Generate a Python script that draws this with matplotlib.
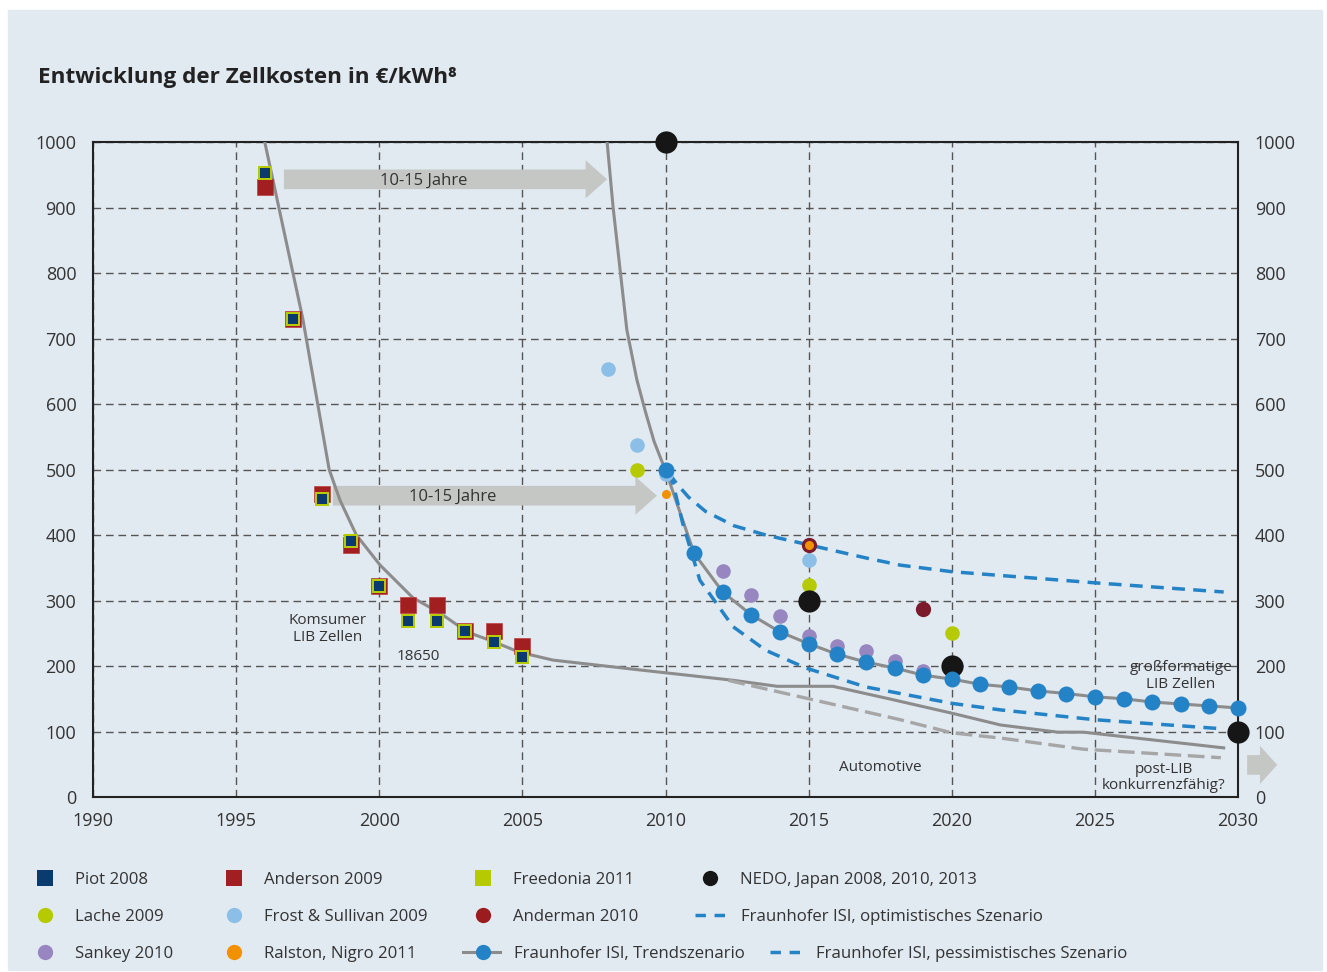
import numpy as np
import matplotlib.pyplot as plt
from matplotlib.patches import Rectangle, FancyArrow

plt.rcParams['font.family'] = ['Open Sans', 'DejaVu Sans']

W, H = 1327, 972
PANEL = '#e1e9f1'

# squares (Konsumer-Zellen)
sq_years = [1996, 1997, 1998, 1999, 2000, 2001, 2002, 2003, 2004, 2005]
piot = [952, 730, 455, 391, 322, 269, 269, 253, 237, 214]
freedonia = [952, 730, 455, 391, 322, 269, 269, 253, 237, 214]
anderson = [931, 730, 462, 385, 322, 293, 293, 253, 254, 230]

# circles
lache_years, lache = [2009, 2015, 2020], [500, 324, 250]
frost_years, frost = [2008, 2009, 2010, 2015], [653, 537, 493, 362]
anderman_years, anderman = [2015, 2019], [385, 287]
ralston_years, ralston = [2010, 2015], [463, 385]
sankey_years = [2012, 2013, 2014, 2015, 2016, 2017, 2018, 2019]
sankey = [345, 308, 276, 246, 230, 223, 208, 193]
nedo_years, nedo = [2010, 2015, 2020, 2030], [1000, 300, 200, 100]

trend_years = list(range(2010, 2031))
trend = [499, 372, 313, 278, 252, 234, 218, 206, 197, 186, 180, 172,
         168, 162, 158, 153, 150, 145, 142, 139, 136]
trend_top_years = [2007.96, 2008.17, 2008.65, 2009.0, 2009.3, 2009.6, 2009.85]
trend_top = [1000, 900, 713, 637, 588, 543, 515]

opt_years = [2010.1, 2010.26, 2010.6, 2011.2, 2012.36, 2013.5, 2014.9,
             2017.0, 2018.2, 2020, 2021.7, 2025, 2029.5]
opt = [495, 479, 418, 331, 260, 224, 197, 168, 158, 143, 133, 118, 104]
pess_years = [2010.1, 2010.4, 2010.8, 2011.4, 2012.4, 2013.5, 2014.7, 2017,
              2018.2, 2020, 2025, 2029.5]
pess = [495, 478, 458, 436, 414, 400, 388, 365, 354, 344, 327, 313]

consumer_years = [1996.0, 1997.33, 1998.25, 1998.63, 1999.2, 2000.03, 2001.18,
                  2002.12, 2003.07, 2004.0, 2004.9, 2006.07, 2009.1, 2012.4,
                  2013.9, 2015.85, 2017.8, 2020, 2021.7, 2023.7, 2024.6, 2029.5]
consumer = [1000, 730, 500, 453, 400, 354, 304, 281, 252, 237, 221, 209, 194,
            178, 169, 169, 150, 128, 110, 99, 99, 75]
auto_years = [2012.2, 2014.9, 2018.2, 2020, 2021.7, 2024.6, 2029.4]
auto = [178, 151, 118, 98, 90, 73, 60]

C_NAVY = '#0b3a6f'
C_RED = '#a11f21'
C_YG = '#b5ca00'
C_LBLUE = '#8cbfe7'
C_DRED = '#7b1b2b'
C_ORANGE = '#f29100'
C_PURPLE = '#9886c0'
C_BLUE = '#2483c6'
C_BLACK = '#161616'
C_GREY = '#8c8c8c'
C_ARROW = '#c5c7c5'
TXT = '#333333'

fig = plt.figure(figsize=(W / 100, H / 100), dpi=100, facecolor='white')
fig.patches.append(Rectangle((8 / W, 2 / H), 1314 / W, 960 / H,
                             transform=fig.transFigure, color=PANEL, zorder=-10))

ax = fig.add_axes([93 / W, 1 - 797 / H, (1238 - 93) / W, (797 - 142) / H])
ax.set_facecolor(PANEL)
ax.set_xlim(1990, 2030)
ax.set_ylim(0, 1000)
ax.set_xticks(range(1990, 2031, 5))
ax.set_yticks(range(0, 1001, 100))
ax.grid(True, color='#555555', lw=1, linestyle=(0, (5.5, 3.5)), zorder=0)
ax.tick_params(length=0, labelsize=13, colors=TXT, labelright=True)
ax.tick_params(axis='x', pad=11)
ax.tick_params(axis='y', which='both', pad=12)
for s in ax.spines.values():
    s.set_color('#222222')
    s.set_linewidth(1.5)
ax.set_axisbelow(True)

# arrows
for x0, x1, y, tx in [(1996.67, 2007.96, 943, 2001.56), (1998.38, 2009.7, 460, 2002.58)]:
    ax.add_patch(FancyArrow(x0, y, x1 - x0, 0, width=30, head_width=58,
                            head_length=0.75, length_includes_head=True,
                            color=C_ARROW, lw=0, zorder=2))
    ax.text(tx, y - 2, '10-15 Jahre', ha='center', va='center', fontsize=12, color=TXT, zorder=3)
ax.add_patch(FancyArrow(2030.32, 49, 1.05, 0, width=30, head_width=58,
                        head_length=0.6, length_includes_head=True,
                        color=C_ARROW, lw=0, zorder=2, clip_on=False))

# lines
ax.plot(consumer_years, consumer, color=C_GREY, lw=2.2, zorder=3)
ax.plot(auto_years, auto, color='#a6a6a6', lw=2.4, linestyle=(0, (5, 2)), zorder=3)
ax.plot(trend_top_years + trend_years, trend_top + trend, color=C_GREY, lw=2.2, zorder=3)
ax.plot(opt_years, opt, color=C_BLUE, lw=2.5, linestyle=(0, (3.7, 2.4)), zorder=3)
ax.plot(pess_years, pess, color=C_BLUE, lw=2.5, linestyle=(0, (3.7, 2.4)), zorder=3)

# squares
ax.plot(sq_years, anderson, 's', ms=11, color=C_RED, mec='#c04040', mew=0.5, zorder=4)
ax.plot(sq_years, freedonia, 's', ms=9.8, color=C_YG, mew=0, zorder=5)
ax.plot(sq_years, piot, 's', ms=7.6, color=C_NAVY, mew=0, zorder=6)

# circles
ax.plot(sankey_years, sankey, 'o', ms=10.5, color=C_PURPLE, mew=0, zorder=4)
ax.plot(frost_years, frost, 'o', ms=10.5, color=C_LBLUE, mew=0, zorder=4)
ax.plot(lache_years, lache, 'o', ms=10.5, color=C_YG, mew=0, zorder=4)
ax.plot(anderman_years, anderman, 'o', ms=11, color=C_DRED, mew=0, zorder=5)
ax.plot(ralston_years, ralston, 'o', ms=6.5, color=C_ORANGE, mew=0, zorder=6)
ax.plot(nedo_years, nedo, 'o', ms=16, color=C_BLACK, mew=0, zorder=6, clip_on=False)
ax.plot(trend_years, trend, 'o', ms=11.5, color=C_BLUE, mew=0, zorder=7, clip_on=False)

# annotations
ann = dict(ha='center', va='center', fontsize=11, color=TXT, linespacing=1.15, zorder=8)
ax.text(1998.2, 256, 'Komsumer\nLIB Zellen', **ann)
ax.text(2001.35, 215, '18650', **ann)
ax.text(2017.5, 45, 'Automotive', **ann)
ax.text(2028.0, 185, 'großformatige\nLIB Zellen', **ann)
ax.text(2027.4, 30, 'post-LIB\nkonkurrenzfähig?', **ann)

fig.text(38 / W, 1 - 78 / H, 'Entwicklung der Zellkosten in €/kWh⁸',
         fontsize=16.2, fontweight='bold', color='#222222', va='center', ha='left')

# legend in pixel space
lg = fig.add_axes([0, 0, 1, 1], facecolor='none')
lg.set_xlim(0, W)
lg.set_ylim(H, 0)
lg.axis('off')

LFS = 12.1
legend_items = [
    (45, 878, dict(marker='s', color=C_NAVY), 'Piot 2008'),
    (45, 915, dict(marker='o', color=C_YG), 'Lache 2009'),
    (45, 952, dict(marker='o', color=C_PURPLE), 'Sankey 2010'),
    (234, 878, dict(marker='s', color=C_RED), 'Anderson 2009'),
    (234, 915, dict(marker='o', color=C_LBLUE), 'Frost & Sullivan 2009'),
    (234, 952, dict(marker='o', color=C_ORANGE), 'Ralston, Nigro 2011'),
    (483, 878, dict(marker='s', color=C_YG), 'Freedonia 2011'),
    (483, 915, dict(marker='o', color='#9b1c1f'), 'Anderman 2010'),
    (710, 878, dict(marker='o', color=C_BLACK), 'NEDO, Japan 2008, 2010, 2013'),
]
for x, y, kw, label in legend_items:
    lg.plot([x], [y], ls='none', ms=11 if kw['marker'] == 'o' else 11.5, mew=0, **kw)
    lg.text(x + 30, y + 2, label, fontsize=LFS, color=TXT, va='center', ha='left')

lg.plot([463, 500], [952, 952], color=C_GREY, lw=2.2)
lg.plot([483], [952], 'o', ms=11, color=C_BLUE, mew=0)
lg.text(514, 954, 'Fraunhofer ISI, Trendszenario', fontsize=LFS, color=TXT, va='center')
lg.plot([695, 733], [915, 915], color=C_BLUE, lw=2.5, linestyle=(0, (3, 2.5)))
lg.text(741, 917, 'Fraunhofer ISI, optimistisches Szenario', fontsize=LFS, color=TXT, va='center')
lg.plot([770, 808], [952, 952], color=C_BLUE, lw=2.5, linestyle=(0, (3, 2.5)))
lg.text(816, 954, 'Fraunhofer ISI, pessimistisches Szenario', fontsize=LFS, color=TXT, va='center')

fig.savefig('out.png', dpi=100, facecolor=fig.get_facecolor())
